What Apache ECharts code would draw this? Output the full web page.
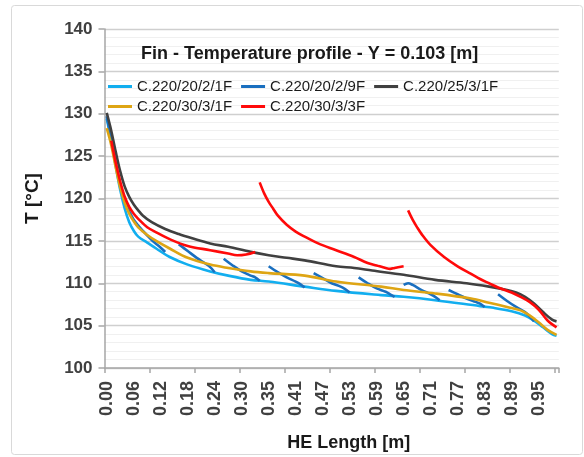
<!DOCTYPE html>
<html>
<head>
<meta charset="utf-8">
<script src="https://cdn.jsdelivr.net/npm/echarts@6/dist/echarts.min.js"></script>
<style>html,body{margin:0;padding:0;background:#fff}#c{width:584px;height:457px}</style>
</head>
<body>
<div id="c"></div>
<script>
const titleText = 'Fin - Temperature profile - Y = 0.103 [m]';
const xName = 'HE Length [m]';
const yName = 'T [°C]';
const xLabels = ['0.00','0.06','0.12','0.18','0.24','0.30','0.35','0.41','0.47','0.53','0.59','0.65','0.71','0.77','0.83','0.89','0.95'];
const categoryCount = 101;
const seriesNames = ['C.220/20/2/1F','C.220/20/2/9F','C.220/25/3/1F','C.220/30/3/1F','C.220/30/3/3F'];
const seriesColors = ['#12AEEF','#1A6FBF','#404040','#DEA514','#FF0A0A'];

// [category index, T] ; null breaks the line
const c220_20_2_1F = [[0,129.4],[1,126.8],[2,123.8],[3,121.0],[4,118.8],[5,117.2],[6,116.2],[7,115.5],[9,114.8],[11,114.1],[14,113.1],[18,112.2],[23,111.4],[27,110.9],[32,110.4],[36,110.2],[44,109.6],[51,109.1],[61,108.6],[66,108.4],[73,108.0],[83,107.3],[86,107.1],[90,106.7],[93,106.2],[95,105.6],[97,104.8],[99,104.0],[100,103.8]];
const c220_20_2_9F = [[0,129.7],[1,127.0],[2,124.2],[3,121.6],[4,119.7],[5,118.5],[6,117.5],[8,116.2],[10,115.1],[12,114.2],[13,113.7],[14,null],
  [16,114.6],[18,113.8],[20,113.0],[22,112.3],[23,111.9],[24,111.3],[25,null],
  [26,112.9],[28,112.1],[30,111.4],[32,110.9],[33,110.7],[34,110.3],[35,null],
  [36,112.0],[38,111.3],[40,110.7],[42,110.2],[43,109.9],[44,109.5],[45,null],
  [46,111.2],[48,110.6],[50,110.0],[52,109.6],[53,109.3],[54,108.9],[55,null],
  [56,110.7],[58,110.0],[60,109.4],[62,109.0],[63,108.7],[64,108.4],[65,null],
  [66,109.8],[67,110.0],[68,109.8],[70,109.2],[72,108.7],[73,108.4],[74,108.0],[75,null],
  [76,109.2],[78,108.7],[80,108.2],[82,107.8],[83,107.6],[84,107.2],[85,null],
  [87,108.7],[89,107.9],[91,107.2],[93,106.6],[94,106.1],[95,105.5]];
const c220_25_3_1F = [[0,130.1],[1,128.0],[2,125.5],[3,123.2],[4,121.4],[5,120.2],[6,119.3],[7,118.6],[8,118.0],[10,117.2],[13,116.4],[16,115.8],[19,115.3],[23,114.7],[27,114.3],[32,113.7],[36,113.3],[40,113.0],[44,112.7],[51,112.0],[55,111.8],[59,111.5],[66,111.0],[73,110.4],[80,110.0],[85,109.6],[89,109.2],[91,108.9],[93,108.4],[95,107.6],[97,106.6],[99,105.7],[100,105.5]];
const c220_30_3_1F = [[0,128.3],[1,126.3],[2,123.7],[3,121.3],[4,119.5],[5,118.2],[6,117.3],[7,116.6],[9,115.7],[11,115.0],[14,114.1],[18,113.0],[23,112.2],[27,111.8],[32,111.4],[36,111.2],[44,110.9],[51,110.2],[61,109.6],[66,109.2],[73,108.8],[81,108.2],[85,107.7],[89,107.2],[92,106.8],[94,106.2],[96,105.4],[98,104.5],[100,103.9]];
const c220_30_3_3F = [[1,126.8],[2,124.2],[3,122.0],[4,120.2],[5,119.0],[6,118.2],[7,117.6],[9,116.6],[11,116.0],[14,115.2],[18,114.4],[23,113.9],[27,113.5],[29,113.3],[31,113.4],[33,113.7],[34,null],
  [34,121.9],[35,120.6],[36,119.6],[37,118.8],[38,118.0],[40,116.9],[42,116.1],[44,115.5],[47,114.7],[51,113.9],[55,113.1],[58,112.4],[60,112.1],[62,111.8],[63,111.7],[64,111.8],[66,112.0],[67,null],
  [67,118.6],[68,117.5],[69,116.6],[70,115.8],[72,114.5],[75,113.1],[78,112.0],[81,111.1],[83,110.5],[85,110.0],[87,109.5],[90,108.9],[92,108.4],[94,107.8],[96,106.9],[98,105.6],[100,104.8]];
const seriesData = [c220_20_2_1F, c220_20_2_9F, c220_25_3_1F, c220_30_3_1F, c220_30_3_3F];

const categories = [];
for (let i = 0; i < categoryCount; i++) categories.push(String(i));

const font = 'Liberation Sans, Arial, sans-serif';
const chart = echarts.init(document.getElementById('c'), null, {renderer: 'canvas'});
chart.setOption({
  backgroundColor: '#fff',
  animation: false,
  graphic: [{
    type: 'rect', shape: {x: 11.5, y: 5.5, width: 571, height: 449, r: 3},
    style: {fill: 'none', stroke: '#d9d9d9', lineWidth: 1}, z: -1
  }],
  title: {
    text: titleText, left: 136, top: 40,
    textStyle: {fontFamily: font, fontSize: 18, fontWeight: 'bold', color: '#1a1a1a'}
  },
  legend: [{
    data: seriesNames.slice(0, 3), left: 103, top: 74, icon: 'rect', itemWidth: 24, itemHeight: 3, itemGap: 9,
    textStyle: {fontFamily: font, fontSize: 15, color: '#1a1a1a'}
  }, {
    data: seriesNames.slice(3), left: 103, top: 94, icon: 'rect', itemWidth: 24, itemHeight: 3, itemGap: 9,
    textStyle: {fontFamily: font, fontSize: 15, color: '#1a1a1a'}
  }],
  grid: {left: 104.5, right: 25.2, top: 29, bottom: 89, containLabel: false},
  xAxis: {
    type: 'category', data: categories, boundaryGap: true,
    name: xName, nameLocation: 'middle', nameGap: 66,
    nameTextStyle: {fontFamily: font, fontSize: 18, fontWeight: 'bold', color: '#1a1a1a', padding: [0, 0, 0, 34]},
    axisLine: {lineStyle: {color: '#a6a6a6', width: 1.5}},
    axisTick: {show: true, interval: 9, length: 5, lineStyle: {color: '#a6a6a6', width: 1.5}},
    axisLabel: {
      interval: 5, rotate: 90, margin: 13,
      fontFamily: font, fontSize: 18, fontWeight: 'bold', color: '#404040',
      formatter: function (v, idx) { const k = idx / 6; return xLabels[k] !== undefined ? xLabels[k] : ''; }
    },
    splitLine: {show: false}
  },
  yAxis: {
    type: 'value', min: 100, max: 140, interval: 5,
    name: yName, nameLocation: 'middle', nameGap: 62, nameRotate: 90,
    nameTextStyle: {fontFamily: font, fontSize: 19, fontWeight: 'bold', color: '#1a1a1a'},
    axisLine: {show: true, lineStyle: {color: '#a6a6a6', width: 1.5}},
    axisTick: {show: true, length: 6, lineStyle: {color: '#a6a6a6', width: 1.5}},
    axisLabel: {margin: 12, fontFamily: font, fontSize: 17, fontWeight: 'bold', color: '#404040'},
    splitLine: {show: true, lineStyle: {color: '#cfcfcf', width: 1.3}},
    minorTick: {show: false, splitNumber: 5},
    minorSplitLine: {show: true, lineStyle: {color: '#f0f0f0', width: 1}}
  },
  series: seriesNames.map((name, k) => ({
    name: name, type: 'line', data: seriesData[k],
    showSymbol: false, symbol: 'none', smooth: 0.35, connectNulls: false,
    lineStyle: {color: seriesColors[k], width: 2.6},
    itemStyle: {color: seriesColors[k]}
  }))
});
</script>
</body>
</html>
